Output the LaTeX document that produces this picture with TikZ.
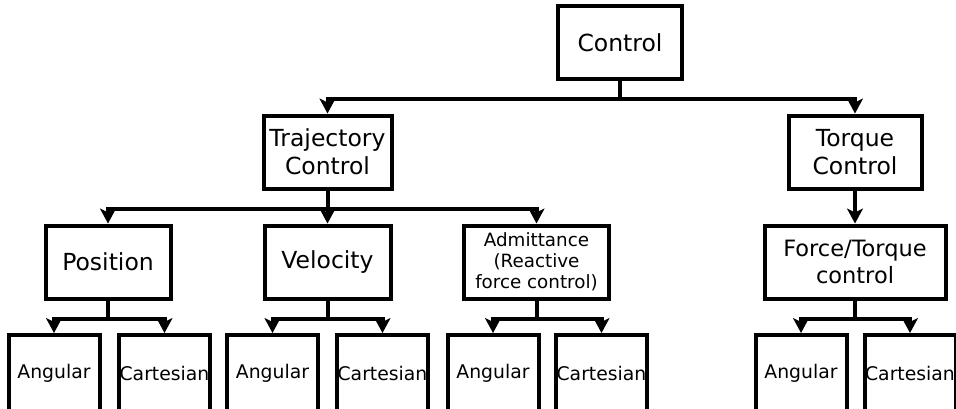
\documentclass[tikz,border=0pt]{standalone}
\usepackage{fontspec}
\setmainfont{DejaVu Sans}
\usetikzlibrary{arrows.meta}
\begin{document}
\begin{tikzpicture}[x=1pt,y=-1pt,
  box/.style={draw=black,line width=4pt,fill=white,inner sep=0pt,align=center,
    minimum height=73pt,font=\fontsize{23.5}{28}\selectfont},
  leaf/.style={box,minimum width=91pt,minimum height=76pt,font=\fontsize{18.8}{22}\selectfont},
  conn/.style={line width=4pt,-{Stealth[length=15pt,width=16pt,inset=4pt]}}]
\useasboundingbox (0,0) rectangle (956,408);
\clip (0,0) rectangle (956,408);
% level 0
\node[box,minimum width=124pt] (ctrl) at (620,42.5) {Control};
% level 1
\node[box,minimum width=128pt] (traj) at (327.5,152) {Trajectory\\Control};
\node[box,minimum width=133pt] (torq) at (855,152) {Torque\\Control};
% level 2
\node[box,minimum width=125pt] (pos) at (108,262) {Position};
\node[box,minimum width=126pt] (vel) at (327.5,262) {Velocity};
\node[box,minimum width=145pt,font=\fontsize{18.3}{21}\selectfont] (adm) at (536.5,262) {Admittance\\(Reactive\\force control)};
\node[box,minimum width=181pt,font=\fontsize{22.5}{27}\selectfont] (ft) at (855,262) {Force/Torque\\control};
% level 3
\node[leaf] (pa) at (54,373) {Angular};
\node[leaf] (pc) at (164.5,373) {Cartesian};
\node[leaf] (va) at (272.5,373) {Angular};
\node[leaf] (vc) at (382.5,373) {Cartesian};
\node[leaf] (aa) at (493,373) {Angular};
\node[leaf] (ac) at (601.5,373) {Cartesian};
\node[leaf] (fa) at (801,373) {Angular};
\node[leaf] (fc) at (910,373) {Cartesian};
% connectors
\draw[conn] (ctrl.south) -- ++(0,18) -| (traj.north);
\draw[conn] (ctrl.south) -- ++(0,18) -| (torq.north);
\draw[conn] (traj.south) -- ++(0,18) -| (pos.north);
\draw[conn] (traj.south) -- (vel.north);
\draw[conn] (traj.south) -- ++(0,18) -| (adm.north);
\draw[conn] (torq.south) -- (ft.north);
\foreach \p/\a/\c in {pos/pa/pc,vel/va/vc,adm/aa/ac,ft/fa/fc}{
  \draw[conn] (\p.south) -- ++(0,18) -| (\a.north);
  \draw[conn] (\p.south) -- ++(0,18) -| (\c.north);
}
\end{tikzpicture}
\end{document}
